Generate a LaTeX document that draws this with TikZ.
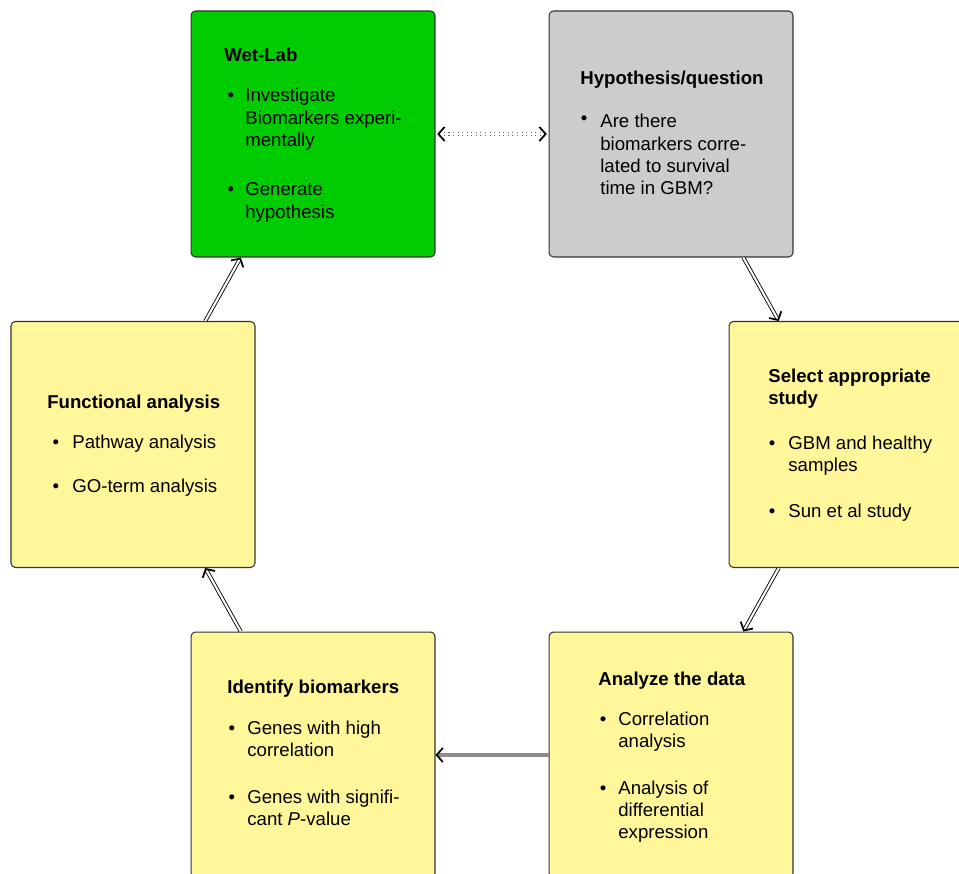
\documentclass[tikz,border=0pt]{standalone}
\usepackage{fontspec}
\setmainfont{Liberation Sans}
\usetikzlibrary{arrows.meta, calc}
\definecolor{labgreen}{HTML}{00CC00}
\definecolor{qgray}{HTML}{CCCCCC}
\definecolor{stepyellow}{HTML}{FFF799}
\newcommand{\lines}[1]{\begin{tabular}[t]{@{}l@{}}#1\end{tabular}}
\tikzset{
  stage/.style={rectangle, draw=black!80, line width=0.6pt, rounded corners=2.5pt, minimum width=4.88cm, minimum height=4.92cm, inner sep=0},
  title/.style={anchor=base west, inner sep=0, font=\bfseries\fontsize{10.6}{12.7}\selectfont},
  item/.style={anchor=base west, inner sep=0, font=\fontsize{10.6}{12.7}\selectfont},
  dot/.style={anchor=base, inner sep=0, font=\fontsize{10.6}{12.7}\selectfont},
  tip/.style={Straight Barb[length=3.5pt, width=8pt, line width=1pt, black]},
  flow/.style={double, double distance=1.2pt, line width=0.5pt, -{Straight Barb[length=3.5pt, width=8pt, line width=1pt, black]}},
  link/.style={dotted, double=white, double distance=1pt, line width=0.6pt, draw=black!60, {Straight Barb[length=3.5pt, width=8pt, line width=1pt, black]}-{Straight Barb[length=3.5pt, width=8pt, line width=1pt, black]}},
}

\begin{document}
\begin{tikzpicture}[x=0.02cm, y=-0.02cm]
\useasboundingbox (0,0) rectangle (959,874);
\clip (0,0) rectangle (959,874);

% boxes
\node[stage, fill=labgreen] (wet) at (313,134) {};
\node[stage, fill=qgray] (hyp) at (671,134) {};
\node[stage, fill=stepyellow] (sel) at (851,444.5) {};
\node[stage, fill=stepyellow] (func) at (133,444.5) {};
\node[stage, fill=stepyellow] (ana) at (671,755) {};
\node[stage, fill=stepyellow] (ident) at (313,755) {};

% Wet-Lab
\node[title] (wettitle) at (224,62) {Wet-Lab};
\node[dot] (wetdot1) at (231,102) {\textbullet};
\node[item] (wetitem1) at (245,102) {\lines{Investigate\\Biomarkers experi-\\mentally}};
\node[dot] (wetdot2) at (231,196) {\textbullet};
\node[item] (wetitem2) at (245,196) {\lines{Generate\\hypothesis}};

% Hypothesis
\node[title] (hyptitle) at (580,85) {Hypothesis/question};
\node[dot] (hypdot1) at (584,125) {\textbullet};
\node[item] (hypitem1) at (600,128) {\lines{Are there\\biomarkers corre-\\lated to survival\\time in GBM?}};

% Select study
\node[title] (seltitle) at (768,382) {\lines{Select appropriate\\study}};
\node[dot] (seldot1) at (772,449) {\textbullet};
\node[item] (selitem1) at (788,449) {\lines{GBM and healthy\\samples}};
\node[dot] (seldot2) at (772,517) {\textbullet};
\node[item] (selitem2) at (788,517) {Sun et al study};

% Functional analysis
\node[title] (functitle) at (47,408) {Functional analysis};
\node[dot] (funcdot1) at (56,448) {\textbullet};
\node[item] (funcitem1) at (72,448) {Pathway analysis};
\node[dot] (funcdot2) at (56,492) {\textbullet};
\node[item] (funcitem2) at (72,492) {GO-term analysis};

% Analyze
\node[title] (anatitle) at (598,685) {Analyze the data};
\node[dot] (anadot1) at (603,725) {\textbullet};
\node[item] (anaitem1) at (618,725) {\lines{Correlation\\analysis}};
\node[dot] (anadot2) at (603,794) {\textbullet};
\node[item] (anaitem2) at (618,794) {\lines{Analysis of\\differential\\expression}};

% Identify
\node[title] (identtitle) at (227,693) {Identify biomarkers};
\node[dot] (identdot1) at (232,734) {\textbullet};
\node[item] (identitem1) at (247,734) {\lines{Genes with high\\correlation}};
\node[dot] (identdot2) at (232,803) {\textbullet};
\node[item] (identitem2) at (247,803) {\lines{Genes with signifi-\\cant \textit{P}-value}};

% cycle
\draw[link, shorten <=1pt, shorten >=1pt] (wet.east) -- (hyp.west);
\draw[flow] ($(hyp.south west)!0.795!(hyp.south east)$) -- ($(sel.north west)!0.205!(sel.north east)$);
\draw[flow] ($(sel.south west)!0.205!(sel.south east)$) -- ($(ana.north west)!0.795!(ana.north east)$);
\draw[flow, draw=black!45, double=black!45] (ana.west) -- (ident.east);
\draw[flow] ($(ident.north west)!0.205!(ident.north east)$) -- ($(func.south west)!0.795!(func.south east)$);
\draw[flow] ($(func.north west)!0.795!(func.north east)$) -- ($(wet.south west)!0.205!(wet.south east)$);

\end{tikzpicture}
\end{document}
